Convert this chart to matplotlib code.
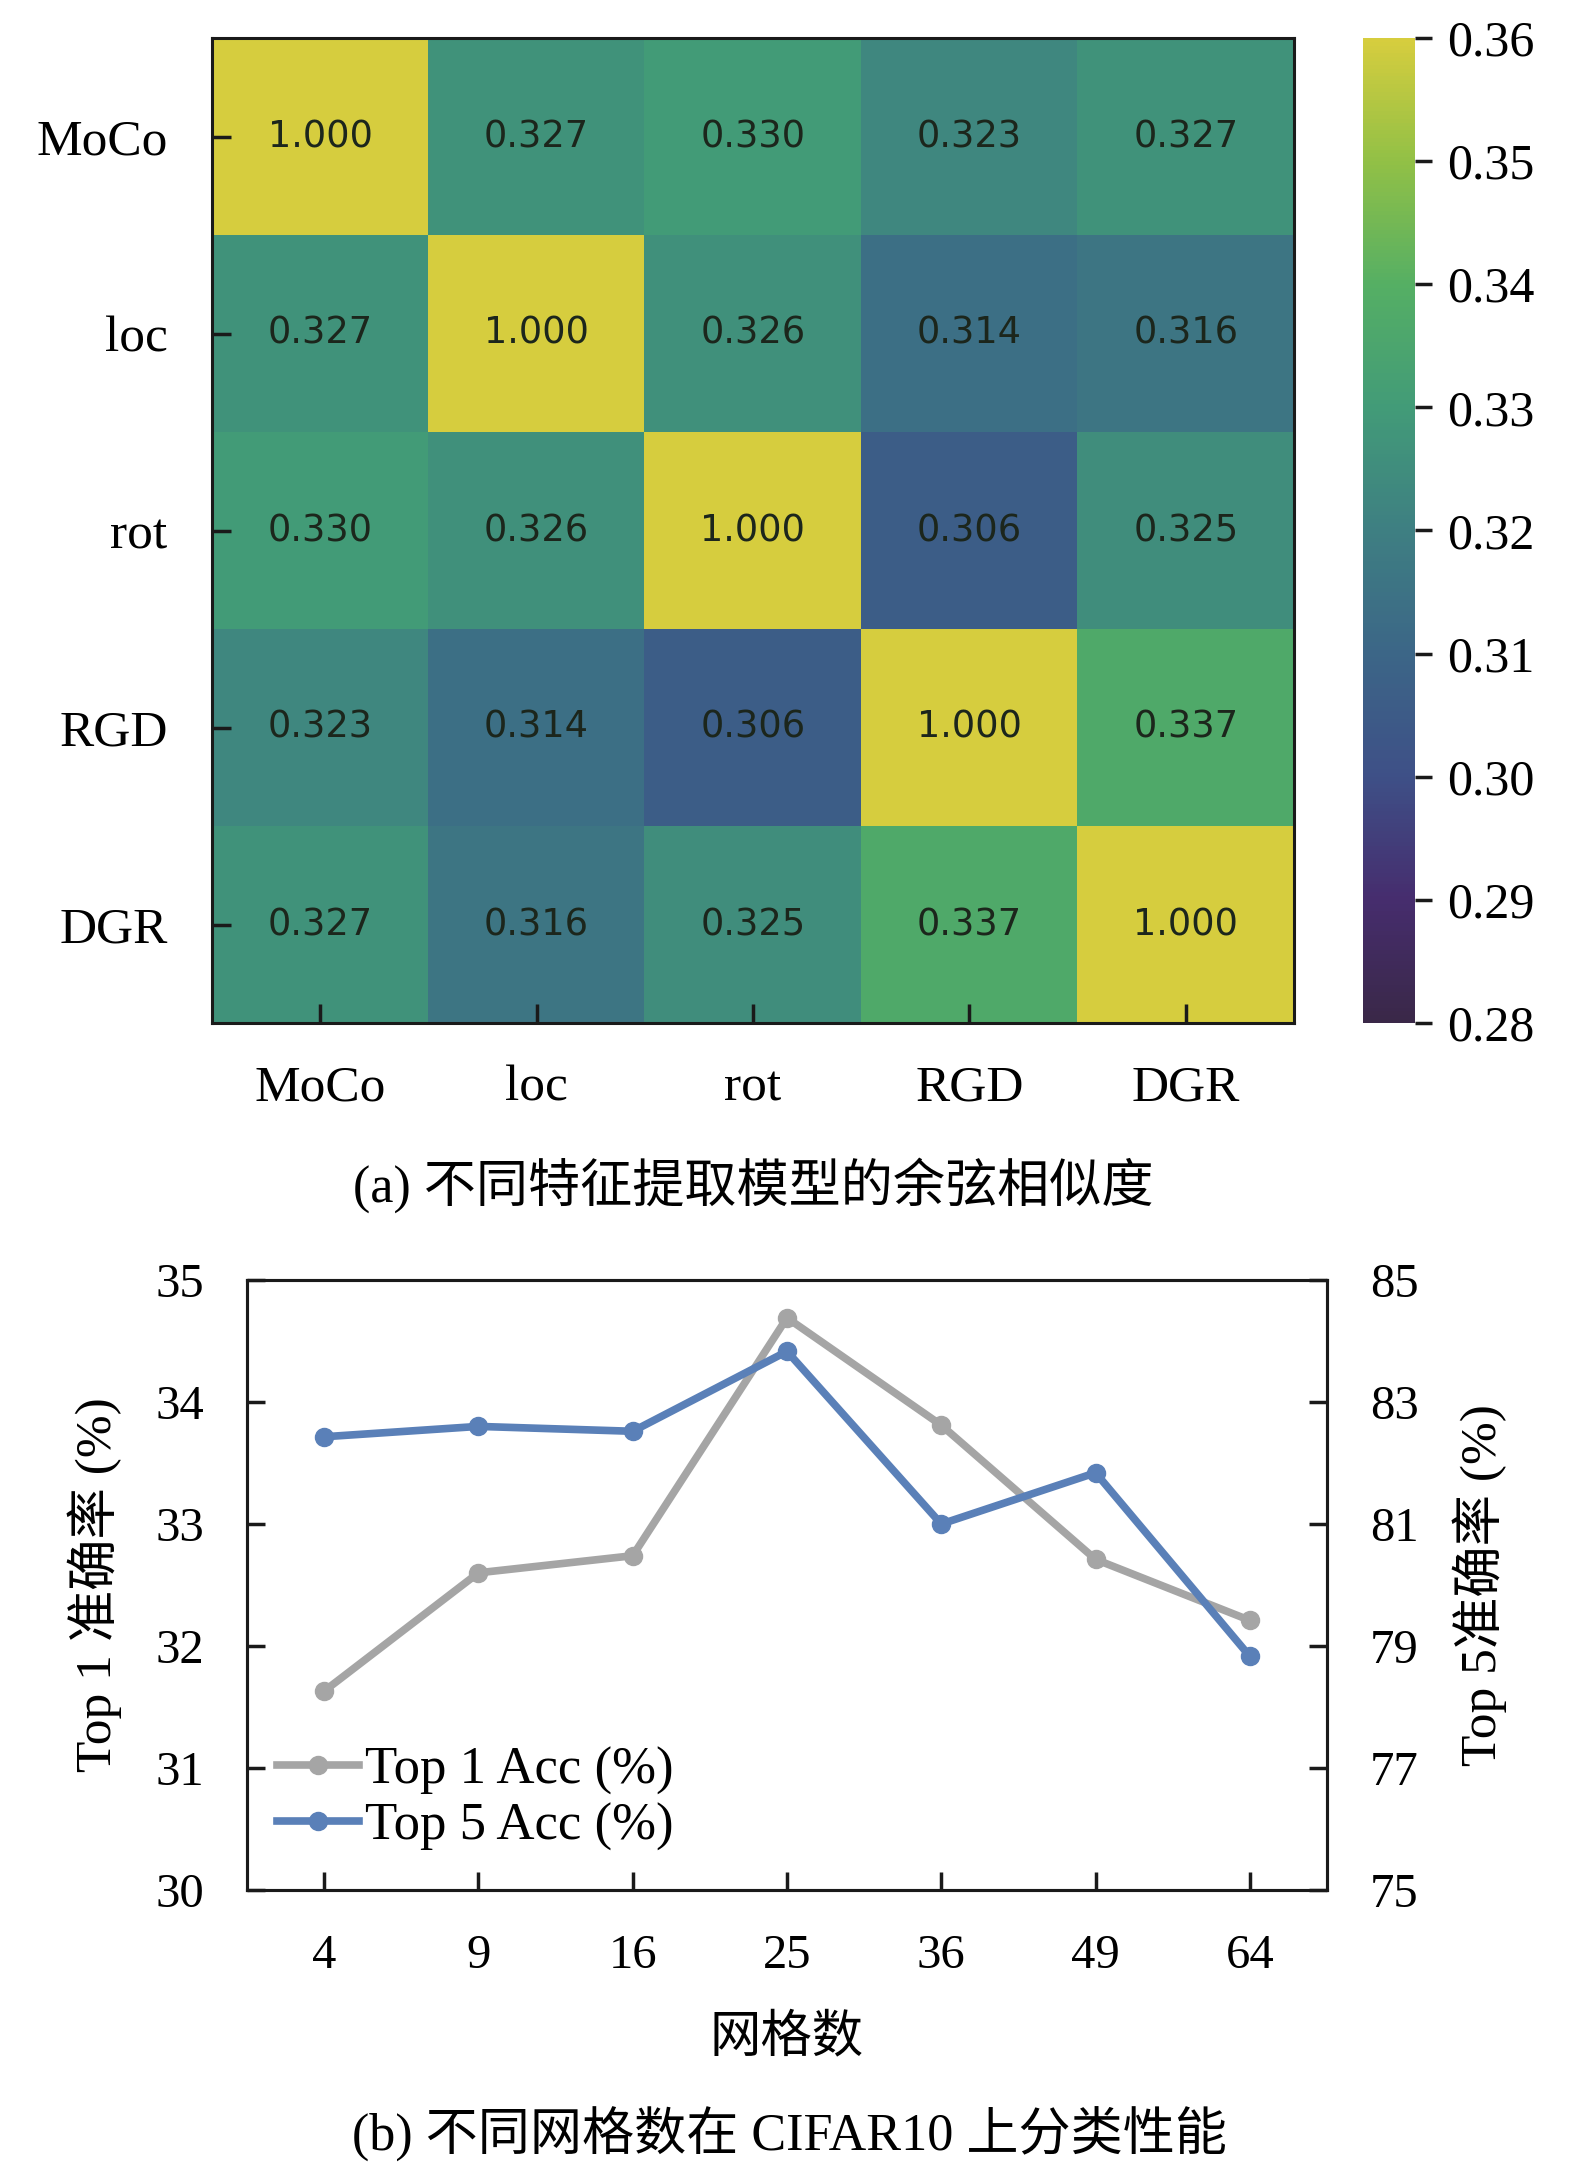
import numpy as np
import matplotlib
matplotlib.use('Agg')
import matplotlib.pyplot as plt
from matplotlib.colors import LinearSegmentedColormap

plt.rcParams['font.family'] = ['Liberation Serif', 'Noto Sans CJK SC']

# (a) cosine similarity between feature extractors
models = ['MoCo', 'loc', 'rot', 'RGD', 'DGR']
sim = np.array([[1.000, 0.327, 0.330, 0.323, 0.327],
                [0.327, 1.000, 0.326, 0.314, 0.316],
                [0.330, 0.326, 1.000, 0.306, 0.325],
                [0.323, 0.314, 0.306, 1.000, 0.337],
                [0.327, 0.316, 0.325, 0.337, 1.000]])
cbar_ticks = [0.28, 0.29, 0.30, 0.31, 0.32, 0.33, 0.34, 0.35, 0.36]

# (b) grid count vs accuracy on CIFAR10
grids = ['4', '9', '16', '25', '36', '49', '64']
top1 = [31.63, 32.60, 32.74, 34.69, 33.81, 32.71, 32.21]
top5 = [82.43, 82.60, 82.52, 83.83, 81.00, 81.84, 78.83]

# washed-out viridis as printed
cmap = LinearSegmentedColormap.from_list('printed_viridis', [
    (58/255, 40/255, 72/255),
    (70/255, 45/255, 110/255),
    (62/255, 80/255, 135/255),
    (60/255, 102/255, 135/255),
    (62/255, 127/255, 130/255),
    (66/255, 155/255, 120/255),
    (85/255, 175/255, 100/255),
    (145/255, 192/255, 70/255),
    (214/255, 205/255, 62/255)])

fig = plt.figure(figsize=(15.75, 21.75), dpi=100)

ax1 = fig.add_axes([212/1575, 1-1023/2175, 1082/1575, 985/2175])
im = ax1.imshow(sim, cmap=cmap, vmin=0.28, vmax=0.36, aspect='auto')
for i in range(len(models)):
    for j in range(len(models)):
        ax1.text(j, i, '%.3f' % sim[i, j], ha='center', va='center',
                 fontsize=26.5, color='#1c261c', family='DejaVu Sans')
ax1.set_xticks(range(len(models)))
ax1.set_yticks(range(len(models)))
ax1.set_xticklabels(models, fontsize=37)
ax1.set_yticklabels(models, fontsize=37)
ax1.tick_params(direction='in', length=14, width=2.5, color='#1a1a1a')
ax1.tick_params(axis='x', pad=30)
ax1.tick_params(axis='y', pad=32)
for s in ax1.spines.values():
    s.set_linewidth(2.2)
    s.set_color('#1a1a1a')

cax = fig.add_axes([1363/1575, 1-1023/2175, 52/1575, 985/2175])
cb = fig.colorbar(im, cax=cax, ticks=cbar_ticks)
cb.outline.set_visible(False)
cb.ax.set_yticklabels(['%.2f' % t for t in cbar_ticks])
cb.ax.tick_params(labelsize=36, length=12, width=2.5, pad=11, color='#1a1a1a')

fig.text(753/1575, 1-1185/2175, '(a) 不同特征提取模型的余弦相似度',
         ha='center', va='center', fontsize=37.5)

# line chart
ax2 = fig.add_axes([247/1575, 1-1890/2175, 1080/1575, 610/2175])
x = np.arange(len(grids))
l1, = ax2.plot(x, top1, color='#a5a5a5', lw=5.5, marker='o', ms=13,
               label='Top 1 Acc (%)')
ax2.set_xlim(-0.5, len(grids) - 0.5)
ax2.set_ylim(30, 35)
ax2.set_xticks(x)
ax2.set_xticklabels(grids)
ax2.set_yticks(range(30, 36))
ax2.set_ylabel('Top 1 准确率 (%)', fontsize=37, labelpad=24)
ax2.set_xlabel('网格数', fontsize=37, labelpad=26)

ax3 = ax2.twinx()
l2, = ax3.plot(x, top5, color='#5a80b8', lw=5.5, marker='o', ms=13,
               label='Top 5 Acc (%)')
ax3.set_ylim(75, 85)
ax3.set_yticks(range(75, 86, 2))
ax3.set_ylabel('Top 5准确率 (%)', fontsize=37, labelpad=24)

for a in (ax2, ax3):
    a.tick_params(direction='in', length=13, width=2.5, labelsize=35,
                  color='#1a1a1a')
    for s in a.spines.values():
        s.set_linewidth(2.2)
        s.set_color('#1a1a1a')
ax2.tick_params(axis='x', pad=32)
ax2.tick_params(axis='y', pad=31)
ax3.tick_params(axis='y', pad=31)

ax2.legend(handles=[l1, l2], loc='center left', bbox_to_anchor=(0.028, 0.15),
           frameon=False, fontsize=38, handlelength=1.55, handletextpad=0.12,
           labelspacing=0.15, borderpad=0, borderaxespad=0)

fig.text(790/1575, 1-2134/2175, '(b) 不同网格数在 CIFAR10 上分类性能',
         ha='center', va='center', fontsize=37.5)

fig.savefig('out.png', dpi=100, facecolor='white')
